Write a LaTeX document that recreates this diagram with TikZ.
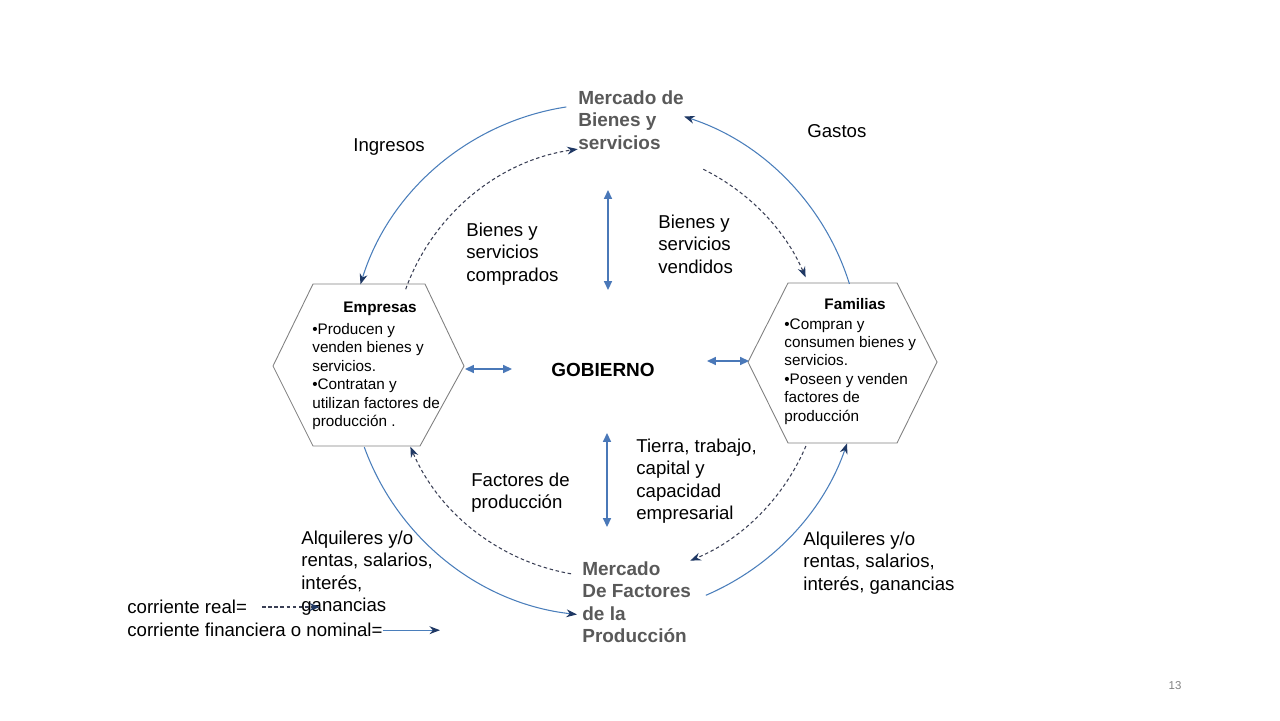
\documentclass[tikz,border=0pt]{standalone}
\usepackage{fontspec}
\setmainfont{Liberation Sans}
\usepackage{xcolor}
\usepackage{tikz}
\usetikzlibrary{arrows.meta}
\definecolor{flowline}{HTML}{4A7EBB}
\definecolor{tipnavy}{HTML}{1F3864}
\definecolor{dashgrey}{HTML}{3A3F55}
\definecolor{govblue}{HTML}{4A78B8}
\definecolor{mktgrey}{HTML}{595959}

\begin{document}
\begin{tikzpicture}[x=0.02cm,y=-0.02cm,
    money/.style={flowline,line width=0.6pt,-{Stealth[length=6pt,width=4.5pt,color=tipnavy]}},
    goods/.style={dashgrey,line width=0.6pt,dash pattern=on 2pt off 1.5pt,-{Stealth[length=6pt,width=4.5pt,color=tipnavy]}},
    gov/.style={govblue,line width=0.9pt,{Triangle[length=5pt,width=4.5pt]}-{Triangle[length=5pt,width=4.5pt]}},
    hexa/.style={gray,line width=0.5pt},
    lbl/.style={anchor=north west,inner sep=0pt,align=left,font=\fontsize{10.6}{12.6}\selectfont},
    mkt/.style={lbl,text=mktgrey,font=\fontsize{10.8}{12.8}\selectfont\bfseries},
    hextxt/.style={anchor=north west,inner sep=0pt,align=left,font=\fontsize{8.7}{10.5}\selectfont},
    hexhead/.style={font=\fontsize{8.7}{10}\selectfont\bfseries},
  ]
    \useasboundingbox (0,0) rectangle (1280,720);

    % the two hexagons
    \draw[hexa] (273,366) -- (313,284) -- (425,284) -- (464,366) -- (420,446) -- (313,446) -- cycle;
    \draw[hexa] (748,362) -- (788,283) -- (897,283) -- (937,362) -- (897,443) -- (788,443) -- cycle;
    \node[hexhead] (emp) at (380,309) {Empresas};
    \node[hextxt] (empb) at (312,323) {•Producen y\\venden bienes y\\servicios.\\•Contratan y\\utilizan factores de\\producción .};
    \node[hexhead] (fam) at (855,304) {Familias};
    \node[hextxt] (famb) at (784,318) {•Compran y\\consumen bienes y\\servicios.\\•Poseen y venden\\factores de\\producción};

    % labels
    \node[mkt] (mbs) at (578,90) {Mercado de\\Bienes y\\servicios};
    \node[mkt] (mfp) at (582,561) {Mercado\\De Factores\\de la\\Producción};
    \node[font=\fontsize{10.8}{13}\selectfont\bfseries] (gob) at (603,370) {GOBIERNO};
    \node[lbl] (ing) at (353,138) {Ingresos};
    \node[lbl] (gas) at (807,124) {Gastos};
    \node[lbl] (bsc) at (466,223) {Bienes y\\servicios\\comprados};
    \node[lbl] (bsv) at (658,215) {Bienes y\\servicios\\vendidos};
    \node[lbl] (ttc) at (636,439) {Tierra, trabajo,\\capital y\\capacidad\\empresarial};
    \node[lbl] (fdp) at (471,473) {Factores de\\producción};
    \node[lbl] (alq1) at (301,531) {Alquileres y/o\\rentas, salarios,\\interés,\\ganancias};
    \node[lbl] (alq2) at (803,532) {Alquileres y/o\\rentas, salarios,\\interés, ganancias};
    \node[lbl] (creal) at (127,600) {corriente real=};
    \node[lbl] (cfin) at (127,623) {corriente financiera o nominal=};
    \node[text=gray,font=\fontsize{6.5}{8}\selectfont] (pg) at (1175,686) {13};

    % circular flows
    \coordinate (ctr) at (605,360);
    \coordinate (ictr) at (608,362);
    \draw[money] ([shift={(-98.7:256)}]ctr) arc[start angle=-98.7,end angle=-162.8,radius=256];
    \draw[money] ([shift={(-17.3:256)}]ctr) arc[start angle=-17.3,end angle=-72,radius=256];
    \draw[money] ([shift={(160.1:256)}]ctr) arc[start angle=160.1,end angle=96.3,radius=256];
    \draw[money] ([shift={(66.8:256)}]ctr) arc[start angle=66.8,end angle=19,radius=256];
    \draw[goods] ([shift={(-160.2:215)}]ictr) arc[start angle=-160.2,end angle=-98.1,radius=215];
    \draw[goods] ([shift={(-63.7:215)}]ictr) arc[start angle=-63.7,end angle=-23.2,radius=215];
    \draw[goods] ([shift={(23:215)}]ictr) arc[start angle=23,end angle=67.5,radius=215];
    \draw[goods] ([shift={(99.9:215)}]ictr) arc[start angle=99.9,end angle=156.8,radius=215];

    % government links
    \coordinate (gl-a) at (465,369);
    \coordinate (gl-b) at (512,369);
    \coordinate (gr-a) at (707,361);
    \coordinate (gr-b) at (749,361);
    \coordinate (gt-a) at (608,190);
    \coordinate (gt-b) at (608,290);
    \coordinate (gb-a) at (607,433);
    \coordinate (gb-b) at (607,527);
    \draw[gov] (gl-a) -- (gl-b);
    \draw[gov] (gr-a) -- (gr-b);
    \draw[gov] (gt-a) -- (gt-b);
    \draw[gov] (gb-a) -- (gb-b);

    % legend
    \coordinate (real-a) at (262,607);
    \coordinate (real-b) at (320,607);
    \coordinate (fin-b) at (440,631);
    \draw[goods] (real-a) -- (real-b);
    \draw[money] (cfin.east) -- (cfin.east -| fin-b);
\end{tikzpicture}
\end{document}
